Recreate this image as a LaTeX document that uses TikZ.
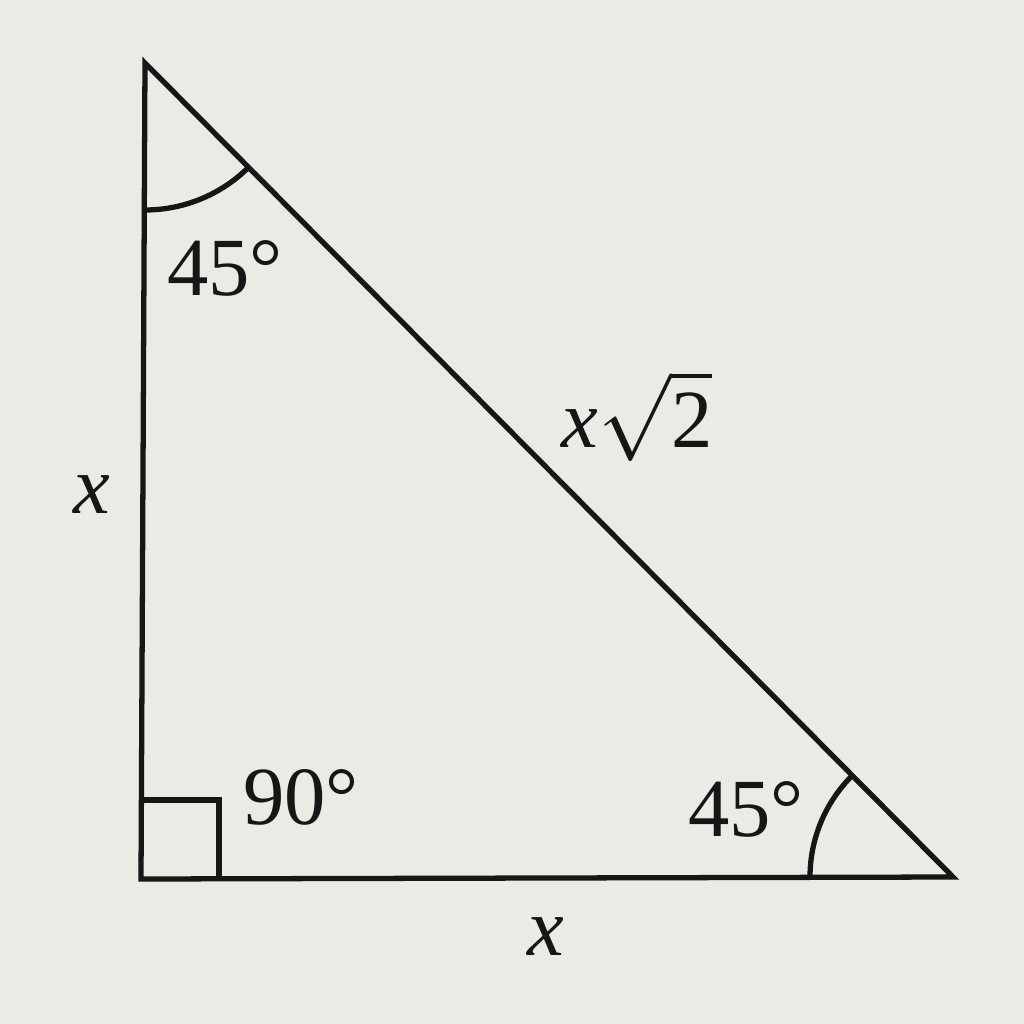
\documentclass[tikz,border=0pt]{standalone}
\usepackage{fontspec}
\setmainfont{Liberation Serif}
\definecolor{paper}{RGB}{236,234,229}
\definecolor{ink}{RGB}{22,22,22}
\begin{document}
\begin{tikzpicture}[x=0.01cm,y=-0.01cm,
  edge/.style={draw=ink,line width=1.5pt,line join=miter},
  lbl/.style={text=ink,font=\fontsize{23.5}{26}\selectfont,inner sep=0pt}]
\fill[paper] (0,0) rectangle (1024,1024);
\useasboundingbox (0,0) rectangle (1024,1024);
\coordinate (A) at (145,63);
\coordinate (B) at (141,879);
\coordinate (C) at (953,877);
\draw[edge] (A) -- (B) -- (C) -- cycle;
% right angle mark
\coordinate (R1) at (141,800);
\coordinate (R2) at (219,800);
\coordinate (R3) at (219,879);
\draw[edge] (R1) -- (R2) -- (R3);
% angle arcs (y axis points down, so angles are mirrored)
\draw[edge] (A) ++(90:147) arc[start angle=90,end angle=45.2,radius=147];
\draw[edge] (C) ++(180:143) arc[start angle=180,end angle=225.2,radius=143];
% labels
\node[lbl] (a1) at (225,268) {45°};
\node[lbl] (hyp) at (637,416) {\textit{x}$\sqrt{\hbox{2}}$};
\node[lbl] (lx) at (92,495) {\textit{x}};
\node[lbl] (a90) at (301,797) {90°};
\node[lbl] (a2) at (746,809) {45°};
\node[lbl] (bx) at (546,937) {\textit{x}};
\end{tikzpicture}
\end{document}
